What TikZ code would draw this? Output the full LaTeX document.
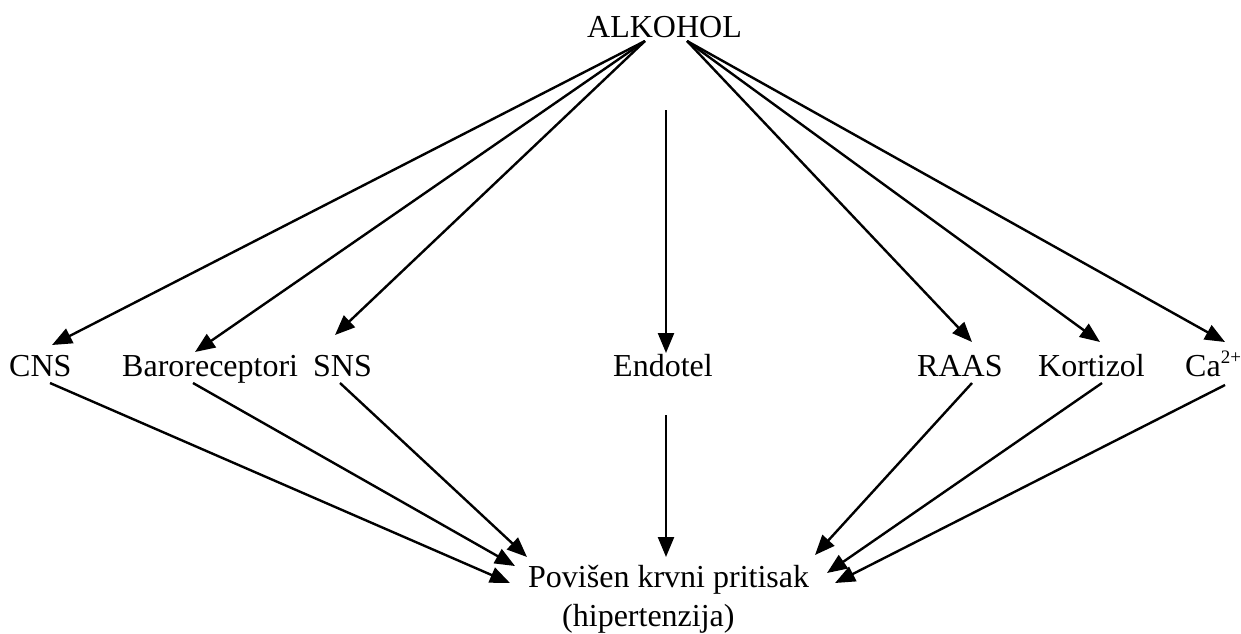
\documentclass[tikz,border=0pt]{standalone}
\usepackage{fontspec}
\setmainfont{Liberation Serif}
\usetikzlibrary{arrows.meta}
\begin{document}
\begin{tikzpicture}[x=1pt,y=-1pt,
  lbl/.style={anchor=base west,inner sep=0pt,font=\fontsize{32}{38}\selectfont},
  arr/.style={line width=2.4pt,-{Triangle[length=20pt,width=16pt]}}]
\useasboundingbox (0,0) rectangle (1241,633);
% text nodes
\node[lbl] (alk) at (587,37) {ALKOHOL};
\node[lbl] (cns) at (9,376) {CNS};
\node[lbl] (baro) at (122,376) {Baroreceptori};
\node[lbl] (sns) at (313,376) {SNS};
\node[lbl] (endo) at (613,376) {Endotel};
\node[lbl] (raas) at (917,376) {RAAS};
\node[lbl] (kort) at (1038,376) {Kortizol};
\node[lbl] (ca) at (1185,376) {Ca\raisebox{13pt}{\fontsize{19}{19}\selectfont 2+}};
\node[lbl] (pov) at (528,587) {Povišen krvni pritisak};
\node[lbl] (hip) at (562,626) {(hipertenzija)};
% connector end points
\coordinate (aL) at (645,41);
\coordinate (aR) at (687,41);
\coordinate (aM) at (666,110);
\coordinate (cnsIn) at (52,345);
\coordinate (baroIn) at (195,352);
\coordinate (snsIn) at (335,335);
\coordinate (endoIn) at (666,353);
\coordinate (raasIn) at (972,342);
\coordinate (kortIn) at (1100,342);
\coordinate (caIn) at (1225,342);
\coordinate (cnsOut) at (50,383);
\coordinate (baroOut) at (193,383);
\coordinate (snsOut) at (340,383);
\coordinate (endoOut) at (666,415);
\coordinate (raasOut) at (972,383);
\coordinate (kortOut) at (1102,383);
\coordinate (caOut) at (1225,385);
\coordinate (povCNS) at (510,583);
\coordinate (povBaro) at (515,566);
\coordinate (povSNS) at (527,557);
\coordinate (povEndo) at (666,557);
\coordinate (povRAAS) at (815,555);
\coordinate (povKort) at (827,573);
\coordinate (povCa) at (835,583);
% upper arrows
\draw[arr] (aL) -- (cnsIn);
\draw[arr] (aL) -- (baroIn);
\draw[arr] (aL) -- (snsIn);
\draw[arr] (aM) -- (endoIn);
\draw[arr] (aR) -- (raasIn);
\draw[arr] (aR) -- (kortIn);
\draw[arr] (aR) -- (caIn);
% lower arrows
\draw[arr] (cnsOut) -- (povCNS);
\draw[arr] (baroOut) -- (povBaro);
\draw[arr] (snsOut) -- (povSNS);
\draw[arr] (endoOut) -- (povEndo);
\draw[arr] (raasOut) -- (povRAAS);
\draw[arr] (kortOut) -- (povKort);
\draw[arr] (caOut) -- (povCa);
\end{tikzpicture}
\end{document}
